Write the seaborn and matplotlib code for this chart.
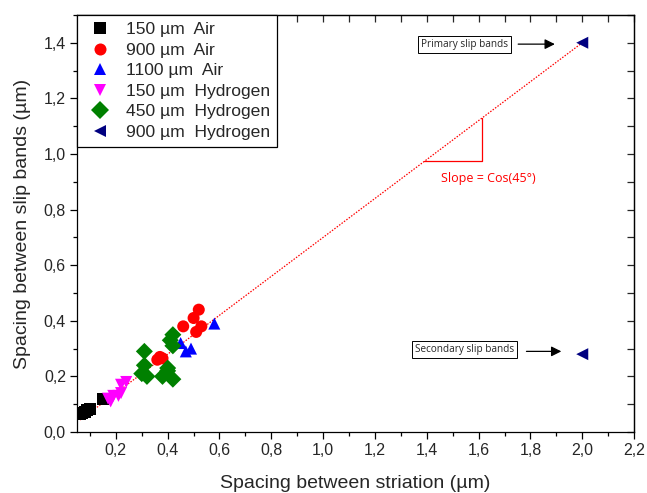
import numpy as np
import pandas as pd
import matplotlib
matplotlib.use("Agg")
import matplotlib.pyplot as plt
import seaborn as sns
from matplotlib.ticker import MultipleLocator, FuncFormatter

# ---- data ----
series_names = ["150 µm  Air", "900 µm  Air", "1100 µm  Air",
                "150 µm  Hydrogen", "450 µm  Hydrogen", "900 µm  Hydrogen"]
series_colors = ["#000000", "#FF0000", "#0000FF", "#FF00FF", "#008000", "#000080"]
series_markers = ["s", "o", "^", "v", "D", "<"]

air150_x = [0.06, 0.07, 0.08, 0.09, 0.10, 0.15]
air150_y = [0.065, 0.068, 0.072, 0.078, 0.082, 0.12]
air900_x = [0.36, 0.37, 0.38, 0.46, 0.50, 0.52, 0.53, 0.51]
air900_y = [0.26, 0.27, 0.265, 0.38, 0.41, 0.44, 0.38, 0.36]
air1100_x = [0.45, 0.47, 0.49, 0.58]
air1100_y = [0.32, 0.29, 0.30, 0.39]
h150_x = [0.17, 0.18, 0.19, 0.21, 0.22, 0.22, 0.24]
h150_y = [0.12, 0.11, 0.13, 0.13, 0.14, 0.17, 0.18]
h450_x = [0.30, 0.31, 0.31, 0.32, 0.38, 0.40, 0.40, 0.42, 0.41, 0.42, 0.42]
h450_y = [0.21, 0.29, 0.24, 0.20, 0.20, 0.22, 0.23, 0.19, 0.33, 0.35, 0.31]
h900_x = [2.0, 2.0]
h900_y = [1.40, 0.28]

fit_x = [0.062, 2.0]
fit_slope = 0.7
slope_tri_x = [1.39, 1.613, 1.613]
slope_tri_y = [0.973, 0.973, 1.129]

xs = [air150_x, air900_x, air1100_x, h150_x, h450_x, h900_x]
ys = [air150_y, air900_y, air1100_y, h150_y, h450_y, h900_y]
df = pd.concat([pd.DataFrame({"x": x, "y": y, "series": n})
                for x, y, n in zip(xs, ys, series_names)], ignore_index=True)

sns.set_style("white")
plt.rcParams["font.family"] = ["Liberation Sans", "DejaVu Sans"]

fig = plt.figure(figsize=(6.47, 4.93), dpi=100)
ax = fig.add_axes([0.119, 0.1237, 0.861, 0.846])

# fit line (dotted red)
fx = np.array(fit_x)
ax.plot(fx, fit_slope * fx, color="#FF0000", lw=0.9, ls=(0, (1.2, 1.2)), zorder=1)
# slope triangle
ax.plot(slope_tri_x, slope_tri_y, color="#FF0000", lw=0.9, zorder=1)
ax.text(1.638, 0.912, "Slope = Cos(45°)", color="#FF0000", fontsize=9,
        ha="center", va="center", family=["Open Sans", "DejaVu Sans"])

pal = dict(zip(series_names, series_colors))
mk = dict(zip(series_names, series_markers))
sns.scatterplot(data=df, x="x", y="y", hue="series", style="series",
                palette=pal, markers=mk, hue_order=series_names,
                style_order=series_names, s=75, edgecolor="none",
                linewidth=0, ax=ax, zorder=3)

# annotations
box = dict(boxstyle="square,pad=0.3", fc="white", ec="black", lw=0.7)
ax.text(1.545, 1.395, "Primary slip bands", fontsize=7.2, ha="center", va="center",
        bbox=box, family=["Open Sans", "DejaVu Sans"])
ax.annotate("", xy=(1.905, 1.395), xytext=(1.742, 1.395),
            arrowprops=dict(arrowstyle="-|>", color="black", lw=0.9, mutation_scale=15))
ax.text(1.547, 0.296, "Secondary slip bands", fontsize=7.2, ha="center", va="center",
        bbox=box, family=["Open Sans", "DejaVu Sans"])
ax.annotate("", xy=(1.93, 0.29), xytext=(1.774, 0.29),
            arrowprops=dict(arrowstyle="-|>", color="black", lw=0.9, mutation_scale=15))

ax.set_xlim(0.05, 2.2)
ax.set_ylim(0, 1.5)
fmt = FuncFormatter(lambda v, p: f"{v:.1f}".replace(".", ","))
ax.xaxis.set_major_locator(MultipleLocator(0.2))
ax.xaxis.set_minor_locator(MultipleLocator(0.1))
ax.yaxis.set_major_locator(MultipleLocator(0.2))
ax.yaxis.set_minor_locator(MultipleLocator(0.1))
ax.xaxis.set_major_formatter(fmt)
ax.yaxis.set_major_formatter(fmt)
ax.tick_params(which="major", direction="out", length=5, width=0.9, color="black",
               labelsize=11.5, bottom=True, left=True, pad=3)
ax.tick_params(which="minor", direction="out", length=3, width=0.9, color="black",
               bottom=True, left=True)

# inward ticks on top & right
top = ax.secondary_xaxis("top")
top.xaxis.set_major_locator(MultipleLocator(0.2))
top.xaxis.set_minor_locator(MultipleLocator(0.1))
top.tick_params(which="both", direction="in", length=5, width=0.9, labeltop=False)
right = ax.secondary_yaxis("right")
right.yaxis.set_major_locator(MultipleLocator(0.2))
right.yaxis.set_minor_locator(MultipleLocator(0.1))
right.tick_params(which="both", direction="in", length=5, width=0.9, labelright=False)
for sec in (top, right):
    for sp in sec.spines.values():
        sp.set_linewidth(0.9)

for sp in ax.spines.values():
    sp.set_color("black")
    sp.set_linewidth(0.9)

ax.set_xlabel("Spacing between striation (µm)", fontsize=14, labelpad=12)
ax.set_ylabel("Spacing between slip bands (µm)", fontsize=14, labelpad=9)

leg = ax.legend(loc="upper left", bbox_to_anchor=(0, 1), borderaxespad=0,
                frameon=True, fancybox=False, fontsize=12.6, markerscale=1.0,
                handletextpad=0.6, labelspacing=0.3, borderpad=0.4,
                handlelength=1.8)
leg.get_frame().set_edgecolor("black")
leg.get_frame().set_linewidth(0.9)
leg.get_frame().set_alpha(1)

fig.savefig("out.png", dpi=100)
